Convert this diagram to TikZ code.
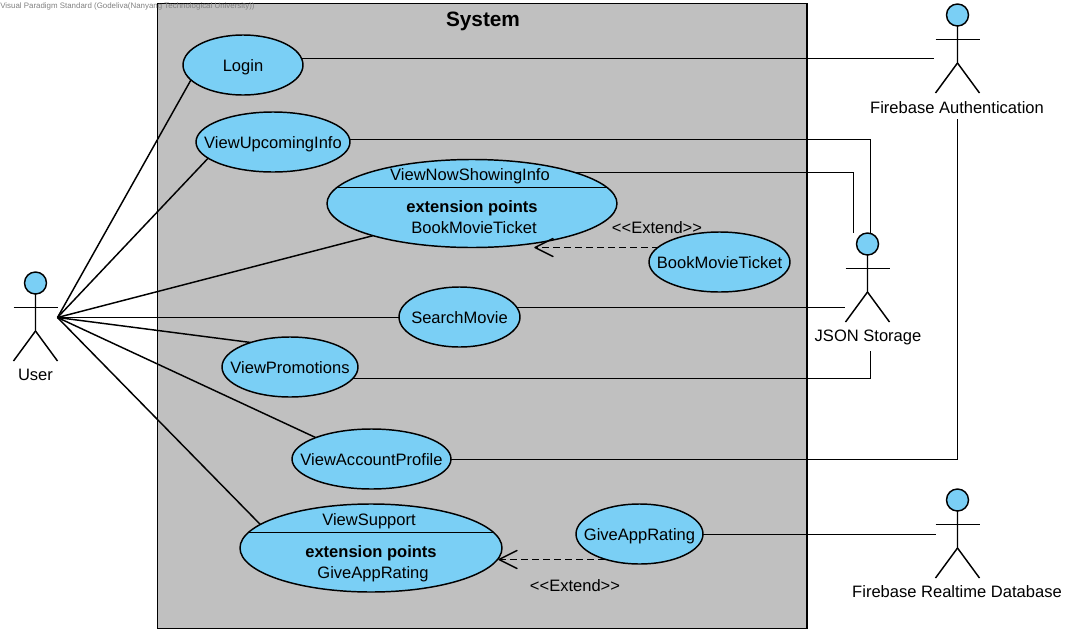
\documentclass[tikz,border=0pt]{standalone}
\usepackage{fontspec}
\setmainfont{Liberation Sans}
\usetikzlibrary{shapes.geometric,arrows.meta}
\pgfdeclarelayer{sysback}
\pgfdeclarelayer{links}
\pgfsetlayers{sysback,links,main}
\definecolor{casefill}{HTML}{7ACFF5}
\definecolor{sysfill}{HTML}{C0C0C0}
\def\px{0.75pt}
\pgfdeclarearrow{
  name=OpenV,
  setup code={\pgfarrowssettipend{0pt}\pgfarrowssetlineend{-0.5pt}\pgfarrowssetbackend{-13.5pt}\pgfarrowssetvisualbackend{-0.5pt}},
  drawing code={\pgfsetdash{}{0pt}\pgfsetroundjoin\pgfsetroundcap
    \pgfpathmoveto{\pgfpoint{-13.5pt}{6.75pt}}\pgfpathlineto{\pgfpointorigin}\pgfpathlineto{\pgfpoint{-13.5pt}{-6.75pt}}\pgfusepathqstroke},
  defaults={}
}
\tikzset{
  ln/.style={line width=1.1pt,black},
  ucase/.style={ellipse,draw,line width=1.1pt,fill=casefill,inner sep=0pt,outer sep=0pt,minimum width=#1*\px},
  onecase/.style={ucase=#1,minimum height=60*\px},
  twocase/.style={ucase=#1,minimum height=88*\px},
  txt/.style={font=\fontsize{12.4}{14}\selectfont,inner sep=0pt,text=black,text height=11.5pt,text depth=2.5pt},
  btxt/.style={txt,font=\fontsize{12.4}{14}\selectfont\bfseries},
  every label/.style={txt},
  actorbox/.style={inner sep=0pt,outer sep=0pt,minimum width=44*\px,minimum height=91*\px},
  ext/.style={ln,dash pattern=on 6.5*\px off 4.5*\px,-OpenV},
}
% \actorfig{name}{x}{y of head top}
\newcommand\actorfig[3]{%
  \node[actorbox,anchor=north] (#1) at (#2,#3) {};
  \node[circle,draw,line width=1.1pt,fill=casefill,inner sep=0pt,outer sep=0pt,minimum size=22*\px,anchor=north] (#1head) at (#2,#3) {};
  \draw[ln] (#1head.south) -- ++(0,37) coordinate (#1hip) -- ++(-22,30);
  \draw[ln] (#1hip) -- ++(22,30);
  \draw[ln] (#1head.south) ++(0,13.5) ++(-22,0) -- ++(44,0);
}
\begin{document}
\begin{tikzpicture}[x=0.75pt,y=-0.75pt]
\useasboundingbox (0,0) rectangle (1083,636);
\begin{pgfonlayer}{sysback}
  \node[draw,line width=1.1pt,fill=sysfill,anchor=north west,inner sep=0pt,outer sep=0pt,minimum width=649.5*\px,minimum height=625*\px] (system) at (157.5,3.5) {};
\end{pgfonlayer}
\node[inner sep=0pt,text=black,text height=14pt,text depth=3pt,font=\fontsize{15.6}{18}\selectfont\bfseries] (systitle) at (483,19) {System};
\node[inner sep=0pt,anchor=west,text=gray,font=\fontsize{5.93}{7}\selectfont] (mark) at (0,6.5) {Visual Paradigm Standard (Godeliva(Nanyang Technological University))};

\coordinate (vnssplit) at (472,187.5);
\coordinate (supsplit) at (371,532.5);

\node[onecase=120,label={[name=loginL]center:Login}] (login) at (243,65) {};
\node[onecase=154,label={[name=upcomingL]center:ViewUpcomingInfo}] (upcoming) at (273,142) {};
\node[twocase=290] (vns) at (472,203.5) {};
\node[txt] (vnsname) at (470,174) {ViewNowShowingInfo};
\node[btxt] (vnsext) at (472,206) {extension points};
\node[txt] (vnspoint) at (474,227.5) {BookMovieTicket};
\draw[line width=0.9pt] (vns.173 |- vnssplit) -- (vns.7 |- vnssplit);
\node[onecase=141,label={[name=bookL]center:BookMovieTicket}] (book) at (719.5,262) {};
\node[onecase=121,label={[name=searchL]center:SearchMovie}] (search) at (459.5,317) {};
\node[onecase=136,label={[name=promoL]center:ViewPromotions}] (promo) at (290,367) {};
\node[onecase=159,label={[name=accountL]center:ViewAccountProfile}] (account) at (371.5,459) {};
\node[twocase=262] (support) at (371,548) {};
\node[txt] (supname) at (369,519) {ViewSupport};
\node[btxt] (supext) at (371,551) {extension points};
\node[txt] (suppoint) at (373,572.5) {GiveAppRating};
\draw[line width=0.9pt] (support.173 |- supsplit) -- (support.7 |- supsplit);
\node[onecase=127,label={[name=giveL]center:GiveAppRating}] (give) at (639.5,534) {};

\actorfig{user}{35.5}{272}
\actorfig{auth}{957.5}{4}
\actorfig{json}{867.5}{233}
\actorfig{rtdb}{957.5}{489}
\node[txt] (userL) at (35.5,374) {User};
\node[txt] (authL) at (957,107) {Firebase Authentication};
\node[txt] (jsonL) at (868,335) {JSON Storage};
\node[txt] (rtdbL) at (957,591) {Firebase Realtime Database};
\node[txt] (ext1) at (657,227) {<{}<Extend>{}>};
\node[txt] (ext2) at (575,585) {<{}<Extend>{}>};

\coordinate (authin) at (934,58.5);
\coordinate (upbend) at (870.5,139.5);
\coordinate (vnsbend) at (853.5,172.5);
\coordinate (jsonin) at (845,307.5);
\coordinate (promobend) at (870.5,378.5);
\coordinate (accbend) at (957.5,459.5);
\coordinate (vnstip) at (535,247.5);
\coordinate (suptip) at (499,559.5);

\begin{pgfonlayer}{links}
  \draw[ln] (user.east) -- (login.196);
  \draw[ln] (user.east) -- (upcoming.194);
  \draw[ln] (user.east) -- (vns.198);
  \draw[ln] (user.east) -- (search.center |- user.east);
  \draw[ln] (user.east) -- (promo.148);
  \draw[ln] (user.east) -- (account.159);
  \draw[ln] (user.east) -- (support.168);
  \draw[ln] (login.center |- authin) -- (authin);
  \draw[ln] (upcoming.center |- upbend) -- (upbend) -- (json.north -| upbend);
  \draw[ln] (vns.center |- vnsbend) -- (vnsbend) -- (json.north -| vnsbend);
  \draw[ln] (search.center |- jsonin) -- (jsonin);
  \draw[ln] (promo.center |- promobend) -- (promobend) -- ([yshift=-5pt]jsonL.south -| promobend);
  \draw[ln] (account.center |- accbend) -- (accbend) -- ([yshift=-1.5pt]authL.south -| accbend);
  \draw[ln] (give.center |- 0,534.5) -- (rtdb.west |- 0,534.5);
\end{pgfonlayer}
\draw[ext] (book.166 |- vnstip) -- (vnstip);
\draw[ext] (give.216 |- suptip) -- (suptip);
\end{tikzpicture}
\end{document}
